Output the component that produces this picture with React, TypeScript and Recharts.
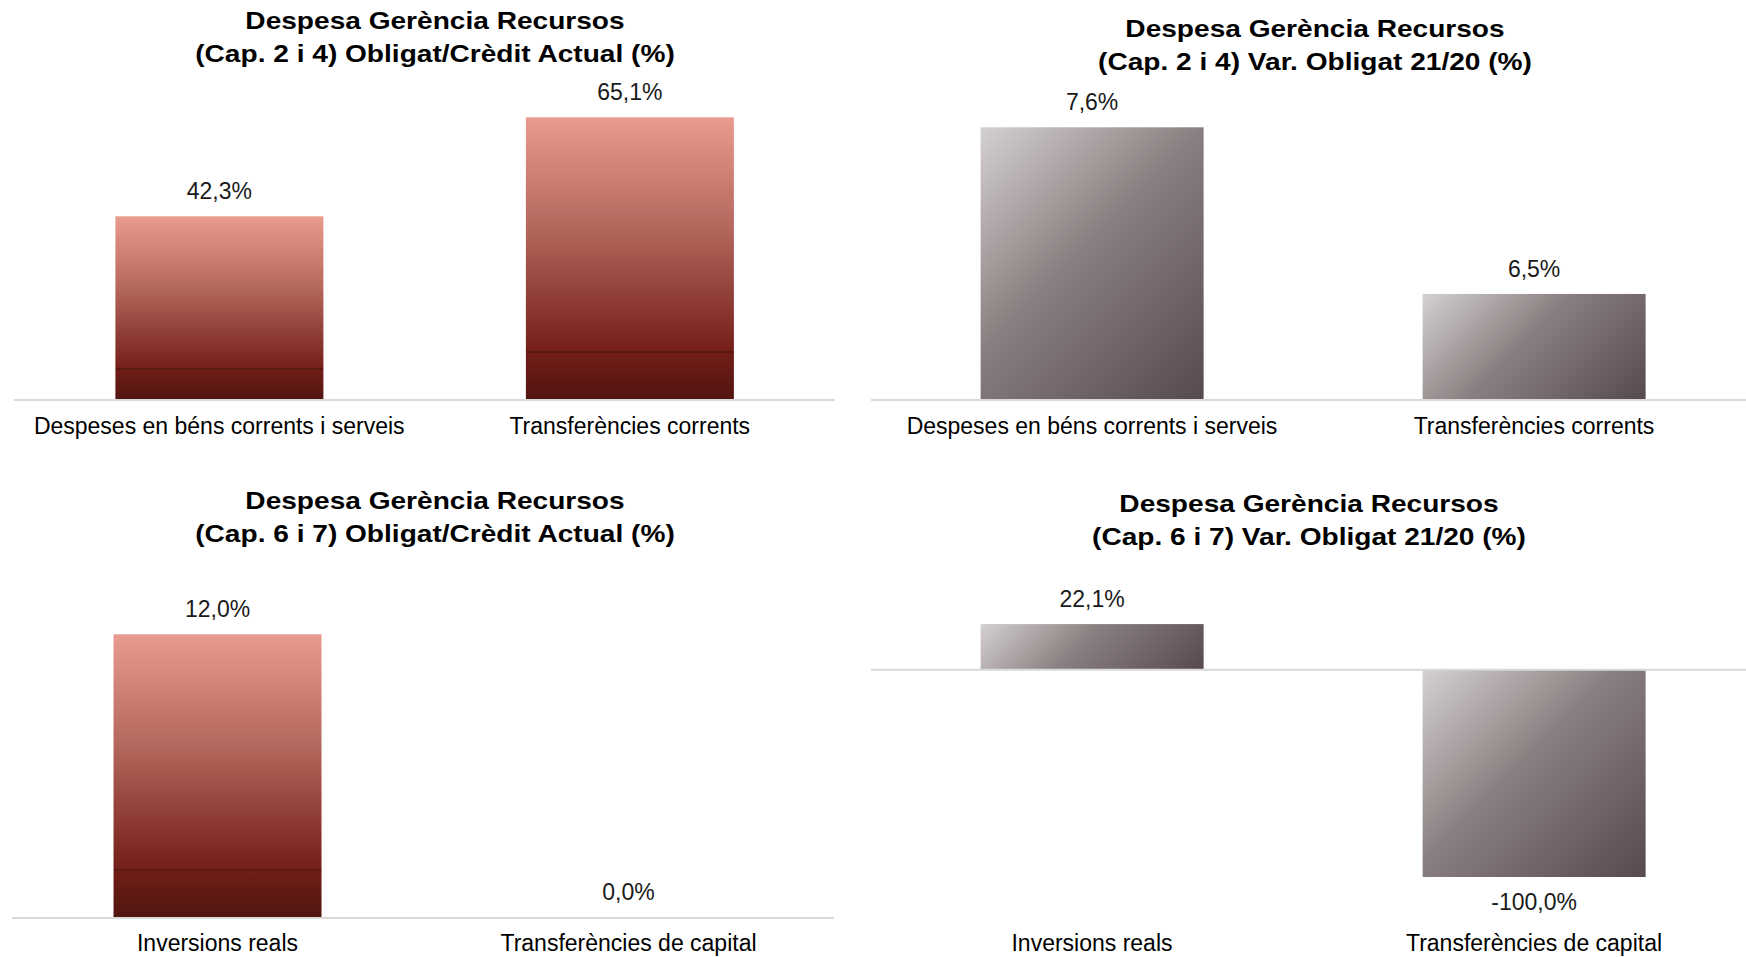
import React from 'react'
import { BarChart, Bar, XAxis, YAxis, LabelList, ReferenceLine } from 'recharts'

// categories
const capCorrents = ['Despeses en béns corrents i serveis', 'Transferències corrents']
const capCapital = ['Inversions reals', 'Transferències de capital']

// series values (%)
const obligatCorrents = [42.3, 65.1]
const varCorrents = [7.6, 6.5]
const obligatCapital = [12.0, 0.0]
const varCapital = [22.1, -100.0]

// value axis ranges as in the original workbook
const domainObligatCorrents = [0, 70]
const domainVarCorrents = [5.8, 7.8]
const domainObligatCapital = [0, 14]
const domainVarCapital = [-100, 40]

const titleObligatCorrents = ['Despesa Gerència Recursos', '(Cap. 2 i 4) Obligat/Crèdit Actual (%)']
const titleVarCorrents = ['Despesa Gerència Recursos', '(Cap. 2 i 4) Var. Obligat 21/20 (%)']
const titleObligatCapital = ['Despesa Gerència Recursos', '(Cap. 6 i 7) Obligat/Crèdit Actual (%)']
const titleVarCapital = ['Despesa Gerència Recursos', '(Cap. 6 i 7) Var. Obligat 21/20 (%)']

const FONT = '"Liberation Sans", Arial, sans-serif'
const AXIS_GREY = '#D9D9D9'

const toRows = (names: string[], values: number[]) =>
  names.map((name, i) => ({ name, value: values[i] }))

const fmt = (v: any) => `${Number(v).toFixed(1).replace('.', ',')}%`

const Title = ({ lines, cx, top }: { lines: string[]; cx: number; top: number }) => (
  <div
    style={{
      position: 'absolute',
      left: cx - 400,
      top,
      width: 800,
      textAlign: 'center',
      fontFamily: FONT,
      fontWeight: 'bold',
      fontSize: 24,
      lineHeight: '33px',
      color: '#000',
      transform: 'scaleX(1.17)',
      transformOrigin: 'center'
    }}
  >
    {lines.map(l => (
      <div key={l}>{l}</div>
    ))}
  </div>
)

// vertical red fill; zero values keep their label but draw no rect
const RedBar = (props: any) => {
  const { x, y, width, height, payload } = props
  if (!payload || payload.value === 0) return null
  const top = height < 0 ? y + height : y
  return <rect x={x} y={top} width={width} height={Math.abs(height)} fill="url(#redFill)" />
}

// diagonal grey fill, 45 degrees in screen space, sized to each bar
const makeGreyBar = (prefix: string) => (props: any) => {
  const { x, y, width, height, index } = props
  const top = height < 0 ? y + height : y
  const h = Math.abs(height)
  if (!h || !width) return null
  const id = `${prefix}-${index}`
  const s = (width + h) / 2
  return (
    <g>
      <defs>
        <linearGradient id={id} gradientUnits="userSpaceOnUse" x1={x} y1={top} x2={x + s} y2={top + s}>
          <stop offset="0" stopColor="#D5D0D0" />
          <stop offset="0.45" stopColor="#8A7F80" />
          <stop offset="1" stopColor="#564A4C" />
        </linearGradient>
      </defs>
      <rect x={x} y={top} width={width} height={h} fill={`url(#${id})`} />
    </g>
  )
}

const tickStyle = { fill: '#000', fontSize: 23, fontFamily: FONT }
const labelStyle = { fill: '#1a1a1a', fontSize: 23, fontFamily: FONT }

export default function App() {
  return (
    <div style={{ position: 'absolute', left: 0, top: 0, width: 1746, height: 957, background: '#fff', overflow: 'hidden' }}>
      <svg width={0} height={0} style={{ position: 'absolute' }}>
        <defs>
          <linearGradient id="redFill" x1="0" y1="0" x2="0" y2="1">
            <stop offset="0" stopColor="#EA9B90" />
            <stop offset="0.4" stopColor="#B3665B" />
            <stop offset="0.828" stopColor="#741F18" />
            <stop offset="0.828" stopColor="#5A1812" />
            <stop offset="0.834" stopColor="#5A1812" />
            <stop offset="0.834" stopColor="#711D16" />
            <stop offset="1" stopColor="#511510" />
          </linearGradient>
        </defs>
      </svg>

      <Title lines={titleObligatCorrents} cx={435} top={3.5} />
      <Title lines={titleVarCorrents} cx={1315} top={11.5} />
      <Title lines={titleObligatCapital} cx={435} top={483.5} />
      <Title lines={titleVarCapital} cx={1309} top={486.5} />

      {/* top left */}
      <div style={{ position: 'absolute', left: 0, top: 0 }}>
        <BarChart width={873} height={470} data={toRows(capCorrents, obligatCorrents)}
          margin={{ top: 96, right: 38, left: 14, bottom: 0 }} barCategoryGap="24.7%">
          <XAxis dataKey="name" height={70} interval={0} tickLine={false} tickSize={0} tickMargin={18}
            axisLine={{ stroke: AXIS_GREY, strokeWidth: 2 }} tick={tickStyle} />
          <YAxis hide width={0} domain={domainObligatCorrents} />
          <Bar dataKey="value" shape={RedBar} isAnimationActive={false}>
            <LabelList dataKey="value" position="top" offset={17} formatter={fmt} style={labelStyle} />
          </Bar>
        </BarChart>
      </div>

      {/* top right */}
      <div style={{ position: 'absolute', left: 871, top: 0 }}>
        <BarChart width={884} height={470} data={toRows(capCorrents, varCorrents)}
          margin={{ top: 97, right: 0, left: 0, bottom: 0 }} barCategoryGap="24.8%">
          <XAxis dataKey="name" height={70} interval={0} tickLine={false} tickSize={0} tickMargin={18}
            axisLine={{ stroke: AXIS_GREY, strokeWidth: 2 }} tick={tickStyle} />
          <YAxis hide width={0} domain={domainVarCorrents} allowDataOverflow />
          <Bar dataKey="value" shape={makeGreyBar('greyA')} isAnimationActive={false}>
            <LabelList dataKey="value" position="top" offset={17} formatter={fmt} style={labelStyle} />
          </Bar>
        </BarChart>
      </div>

      {/* bottom left */}
      <div style={{ position: 'absolute', left: 0, top: 470 }}>
        <BarChart width={873} height={487} data={toRows(capCapital, obligatCapital)}
          margin={{ top: 117, right: 39, left: 12, bottom: 0 }} barCategoryGap="24.7%">
          <XAxis dataKey="name" height={39} interval={0} tickLine={false} tickSize={0} tickMargin={17}
            axisLine={{ stroke: AXIS_GREY, strokeWidth: 2 }} tick={tickStyle} />
          <YAxis hide width={0} domain={domainObligatCapital} />
          <Bar dataKey="value" shape={RedBar} minPointSize={1} isAnimationActive={false}>
            <LabelList dataKey="value" position="top" offset={17} formatter={fmt} style={labelStyle} />
          </Bar>
        </BarChart>
      </div>

      {/* bottom right */}
      <div style={{ position: 'absolute', left: 871, top: 470 }}>
        <BarChart width={884} height={487} data={toRows(capCapital, varCapital)}
          margin={{ top: 117, right: 0, left: 0, bottom: 0 }} barCategoryGap="24.8%">
          <XAxis dataKey="name" height={80} interval={0} tickLine={false} tickSize={0} tickMargin={58}
            axisLine={false} tick={tickStyle} />
          <YAxis hide width={0} domain={domainVarCapital} />
          <Bar dataKey="value" shape={makeGreyBar('greyB')} isAnimationActive={false}>
            <LabelList dataKey="value" position="top" offset={17} formatter={fmt} style={labelStyle} />
          </Bar>
          <ReferenceLine y={0} stroke={AXIS_GREY} strokeWidth={2} />
        </BarChart>
      </div>
    </div>
  )
}
